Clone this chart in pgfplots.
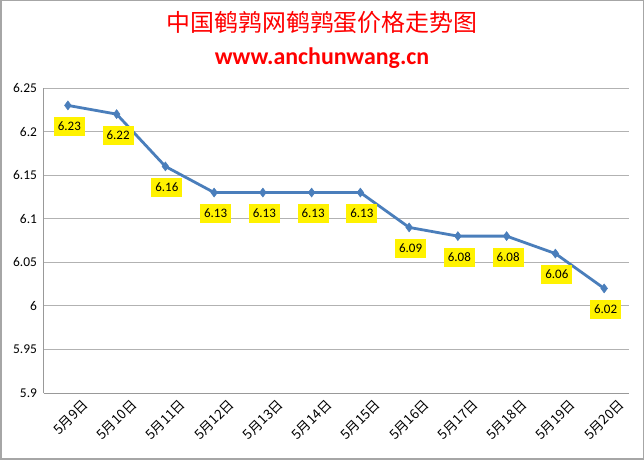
\documentclass[border=0pt]{standalone}
\usepackage{pgfplots}
\pgfplotsset{compat=1.18}
\usepackage{fontspec}
\setmainfont{Carlito}
\newfontfamily\cjk{Noto Sans CJK SC}
\definecolor{lineblue}{HTML}{4A7EBB}
\begin{document}
\begin{tikzpicture}[x=1bp,y=1bp]
\draw[draw=gray!70, line width=1.5bp, fill=white] (0.75,0.75) rectangle (643.25,459.25);
\node[text=red, font=\cjk\fontsize{24}{26}\selectfont] at (322,437) {中国鹌鹑网鹌鹑蛋价格走势图};
\node[text=red, font=\bfseries\fontsize{24}{26}\selectfont] at (322,402) {www.anchunwang.cn};
\begin{axis}[
  at={(43.5bp,67bp)}, anchor=south west,
  width=585bp, height=305bp, scale only axis,
  xmin=-0.5, xmax=11.5, ymin=5.9, ymax=6.25,
  ytick={5.9,5.95,6,6.05,6.1,6.15,6.2,6.25},
  yticklabels={5.9,5.95,6,6.05,6.1,6.15,6.2,6.25},
  xtick={0,...,11},
  xticklabels={5月9日,5月10日,5月11日,5月12日,5月13日,5月14日,5月15日,5月16日,5月17日,5月18日,5月19日,5月20日},
  xticklabel style={font=\cjk\fontsize{13.5}{14}\selectfont, rotate=45, anchor=north east, xshift=6bp, yshift=-13bp, inner sep=0pt},
  yticklabel style={font=\fontsize{13.5}{15}\selectfont, xshift=-3bp},
  major tick length=0pt,
  ymajorgrids, grid style={gray!60, line width=0.8bp},
  axis line style={gray!80, line width=0.8bp},
  axis x line*=bottom, axis y line*=left,
  clip=false,
  nodes near coords,
  every node near coord/.append style={font=\fontsize{13}{14}\selectfont, text=black, fill=yellow, inner sep=0pt, minimum width=31bp, minimum height=19bp, anchor=center, xshift=1.5bp, yshift=-21bp},
  point meta=explicit symbolic,
]
\addplot[color=lineblue, line width=2.8bp, mark=diamond*, mark size=4.5bp, mark options={fill=lineblue, line width=0.5bp}] table[meta=l] {
x y l
0 6.23 6.23
1 6.22 6.22
2 6.16 6.16
3 6.13 6.13
4 6.13 6.13
5 6.13 6.13
6 6.13 6.13
7 6.09 6.09
8 6.08 6.08
9 6.08 6.08
10 6.06 6.06
11 6.02 6.02
};
\end{axis}
\end{tikzpicture}
\end{document}
